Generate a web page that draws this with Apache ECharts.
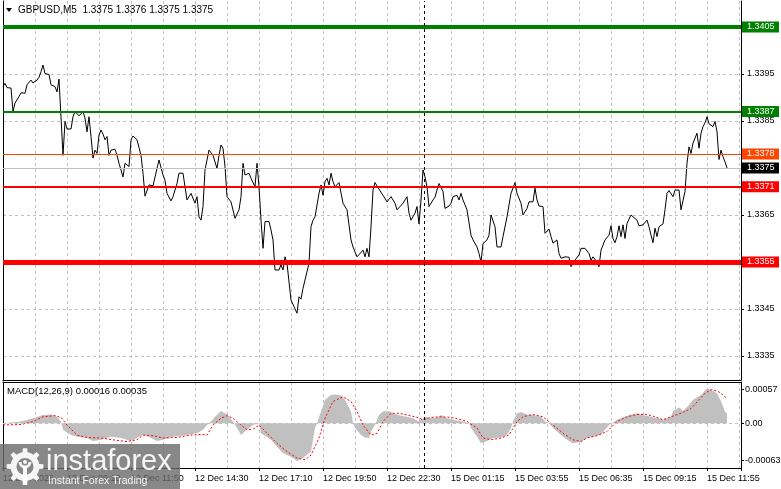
<!DOCTYPE html>
<html><head><meta charset="utf-8">
<script src="https://cdn.jsdelivr.net/npm/echarts@6/dist/echarts.min.js"></script>
<style>html,body{margin:0;padding:0;background:#fff}#c{width:781px;height:489px}</style>
</head><body><div id="c"></div>
<script>
// ---------------- data ----------------
const symbolTitle = 'GBPUSD,M5';
const ohlcValues = ['1.3375', '1.3376', '1.3375', '1.3375'];
const macdTitle = 'MACD(12,26,9) 0.00016 0.00035';
const xTickLabels = ['12 Dec 2025', '12 Dec 09:10', '12 Dec 11:50', '12 Dec 14:30', '12 Dec 17:10', '12 Dec 19:50',
  '12 Dec 22:30', '15 Dec 01:15', '15 Dec 03:55', '15 Dec 06:35', '15 Dec 09:15', '15 Dec 11:55'];
const priceTicks = [1.3335, 1.3345, 1.3355, 1.3365, 1.3375, 1.3385, 1.3395, 1.3405];
const macdTicks = [-0.00063, 0, 0.00057];
const greenLevels = [1.3405, 1.3387];
const orangeLevels = [1.3378];
const redLevels = [1.3371, 1.3355];
const lastPrice = 1.3375;
const daySeparatorBar = 210.4;

const priceBars = [0,1,2,4,5,6,8,9,11,12,14,15,17,18,19,20,21,23,24,26,27,28,29,30,31,32,34,35,36,38,39,40,41,42,43,44,45,46,47,48,49,50,51,52,53,54,56,57,58,60,61,63,64,65,67,69,70,71,73,75,77,78,80,81,82,84,85,87,88,90,91,92,94,95,96,97,98,99,100,101,103,105,107,108,109,110,111,112,114,116,118,119,120,121,123,124,126,127,128,
  129,130,131,133,134,135,136,138,139,140,141,142,143,144,145,147,148,149,150,151,153,154,155,156,158,159,160,161,162,163,164,165,166,168,169,170,172,174,175,177,178,180,181,182,183,184,185,186,188,189,190,192,193,194,196,197,198,200,201,202,203,204,206,207,208,209,210,211,212,213,214,215,216,217,218,219,220,221,223,224,225,226,227,228,229,230,232,234,235,237,238,239,240,242,243,244,246,247,249,250,252,253,
  254,256,257,259,260,262,263,265,266,267,268,270,271,273,274,275,277,278,279,281,283,284,286,288,289,291,293,294,295,297,298,299,301,303,304,305,306,307,308,309,310,311,312,314,315,317,318,320,322,323,324,325,326,327,328,330,331,332,333,335,336,337,338,339,340,341,342,343,344,345,347,348,349,350,351,352,353,355,356,357,358,359,360,361,362];
const priceClose = [1.33923,1.33930,1.33921,1.33920,1.33870,1.33888,1.33902,1.33910,1.33909,1.33927,1.33937,1.33931,1.33937,1.33943,1.33955,1.33969,1.33951,1.33949,1.33927,1.33923,1.33912,1.33939,1.33939,1.33777,1.33849,1.33833,1.33833,1.33859,1.33870,1.33861,1.33861,1.33870,1.33856,1.33827,1.33859,1.33817,1.33771,1.33788,1.33781,1.33820,1.33831,1.33822,1.33810,1.33817,1.33777,1.33788,1.33790,1.33777,1.33760,1.33731,1.33760,1.33753,1.33810,1.33818,1.33810,1.33777,1.33739,1.33690,1.33714,1.33712,1.33749,1.33767,1.33735,1.33724,1.33696,1.33680,1.33689,1.33717,1.33739,1.33739,1.33710,1.33682,1.33696,1.33697,1.33675,1.33689,1.33646,1.33639,1.33668,1.33746,1.33788,1.33777,1.33749,1.33777,1.33799,1.33792,1.33753,1.33689,1.33678,1.33643,1.33661,1.33689,1.33760,1.33735,1.33739,1.33728,1.33710,1.33760,1.33710,
  1.33639,1.33579,1.33636,1.33636,1.33618,1.33597,1.33533,1.33533,1.33544,1.33533,1.33561,1.33547,1.33544,1.33469,1.33466,1.33441,1.33476,1.33471,1.33494,1.33492,1.33547,1.33625,1.33639,1.33646,1.33696,1.33714,1.33692,1.33721,1.33728,1.33714,1.33739,1.33721,1.33710,1.33719,1.33719,1.33675,1.33661,1.33597,1.33582,1.33561,1.33561,1.33575,1.33561,1.33579,1.33561,1.33625,1.33703,1.33719,1.33705,1.33709,1.33692,1.33678,1.33675,1.33689,1.33675,1.33661,1.33661,1.33675,1.33682,1.33689,1.33654,1.33639,1.33654,1.33668,1.33631,1.33682,1.33746,1.33731,1.33710,1.33668,1.33671,1.33682,1.33688,1.33703,1.33717,1.33719,1.33700,1.33664,1.33669,1.33675,1.33689,1.33686,1.33692,1.33682,1.33696,1.33682,1.33661,1.33607,1.33597,1.33582,1.33568,1.33550,1.33589,1.33597,1.33607,1.33650,1.33625,1.33582,1.33582,1.33604,1.33646,1.33671,
  1.33696,1.33719,1.33696,1.33675,1.33650,1.33664,1.33678,1.33678,1.33707,1.33682,1.33669,1.33668,1.33611,1.33620,1.33604,1.33590,1.33597,1.33568,1.33558,1.33561,1.33560,1.33540,1.33554,1.33565,1.33579,1.33579,1.33568,1.33554,1.33561,1.33550,1.33540,1.33575,1.33597,1.33607,1.33627,1.33600,1.33591,1.33604,1.33627,1.33604,1.33629,1.33600,1.33632,1.33650,1.33650,1.33639,1.33627,1.33629,1.33639,1.33625,1.33607,1.33591,1.33622,1.33604,1.33625,1.33631,1.33661,1.33696,1.33702,1.33689,1.33703,1.33707,1.33703,1.33661,1.33664,1.33700,1.33760,1.33795,1.33781,1.33803,1.33824,1.33792,1.33824,1.33838,1.33846,1.33859,1.33844,1.33838,1.33849,1.33827,1.33768,1.33788,1.33774,1.33763,1.33750];

const histBars = [0,9,15,20,24,27,29,30,34,37,42,45,49,54,59,64,67,70,74,77,80,85,92,97,100,102,104,106,109,110,112,115,117,119,120,122,125,128,129,134,137,140,144,147,150,154,156,157,159,161,164,166,169,171,174,175,176,179,181,183,184,186,188,190,193,195,199,202,205,208,209,211,214,217,219,222,225,230,233,234,237,239,242,245,249,252,254,255,257,259,262,265,269,271,273,275,279,282,285,289,292,295,299,301,303,304,307,310,314,317,320,324,327,330,334,335,338,340,343,345,349,352,354,357,359,361,362];
const histValues = [0,0.00003,0.000085,0.00014,0.00015,0.00011,0.00003,-0.00011,-0.0002,-0.00023,-0.00025,-0.0003,-0.00028,-0.00023,-0.00025,-0.0003,-0.00025,-0.00019,-0.00025,-0.0003,-0.00028,-0.00023,-0.0002,-0.00017,-0.00011,-0.00003,0.00003,0.00011,0.00021,0.00022,0.00015,0.00003,-0.00008,-0.0002,-0.00023,-0.00011,-0.00003,0,-0.00017,-0.00028,-0.0004,-0.00051,-0.00057,-0.00064,-0.00059,-0.00048,-0.00008,0,0.0002,0.0004,0.00048,0.00049,0.00047,0.0004,0.0002,0,-0.00008,-0.0002,-0.00024,-0.00025,-0.00014,-0.00003,0.00014,0.0002,0.00021,0.00017,0.00013,0.00011,0.000085,0.00003,0,0.00011,0.000085,0.0001,0.00014,0.000085,0.00006,0.00003,0,-0.00008,-0.00023,-0.00034,-0.0003,-0.00025,-0.00024,-0.0002,-0.00008,0.00003,0.00017,0.00019,0.00015,0.00014,0.00011,0.00003,0,-0.00008,-0.0002,-0.00028,-0.00034,-0.00031,-0.00025,-0.00023,-0.00019,-0.00011,-0.00003,0,0.00006,0.0001,0.00015,0.00017,0.00014,0.00011,0.000085,0.00006,0.00011,0.00021,0.00027,0.00021,0.00031,0.0004,0.00048,0.00059,0.00057,0.00051,0.00037,0.0002,0.00016];

const signalBars = [0,9,15,20,26,29,32,37,42,49,57,62,67,70,75,80,87,94,99,102,105,109,112,115,119,122,125,128,132,137,142,147,151,154,158,161,165,170,174,177,180,184,187,190,194,198,202,207,210,214,219,224,228,232,237,240,244,249,253,257,260,265,270,275,280,285,289,292,297,302,307,312,317,322,326,330,334,339,344,348,351,354,357,359,362];
const signalValues = [-0.00003,-0.00002,0.00003,0.00011,0.00013,0.0001,-0.00003,-0.0002,-0.00024,-0.00025,-0.00029,-0.00031,-0.00028,-0.0002,-0.00021,-0.00025,-0.00024,-0.0002,-0.00019,-0.0002,-0.00003,0.000085,0.00013,0.000085,-0.00003,-0.00011,-0.0001,-0.00003,-0.00017,-0.00034,-0.00048,-0.00059,-0.00062,-0.00054,-0.00025,0.000085,0.00037,0.00045,0.00037,0.0002,-0.00003,-0.0002,-0.00017,0.00003,0.00017,0.00017,0.00014,0.0001,0.00006,0.0001,0.00011,0.0001,0.00007,0.00003,-0.00008,-0.00025,-0.00028,-0.00025,-0.0002,0.00003,0.00011,0.00015,0.00011,-0.00003,-0.00017,-0.00028,-0.00031,-0.00025,-0.00021,-0.00014,0.00003,0.00011,0.00015,0.00015,0.00011,0.00006,0.00011,0.00017,0.00025,0.0004,0.00051,0.00057,0.00055,0.00051,0.00042];

// ---------------- chart ----------------
const FONT = "'Liberation Sans', Arial, sans-serif";
const GRID_COLOR = '#C0C0C0';
const chart = echarts.init(document.getElementById('c'), null, { renderer: 'canvas' });

function boxLabel(bg, digits) {
  return {
    show: true, position: 'end', distance: 1,
    formatter: p => Number(p.value).toFixed(digits),
    color: '#fff', backgroundColor: bg, fontFamily: FONT, fontSize: 9,
    lineHeight: 10, padding: [1, 3, 0, 5], width: 29, align: 'left'
  };
}
const levelLines = [];
greenLevels.forEach((v, k) => levelLines.push({ yAxis: v, lineStyle: { color: '#008000', width: k === 0 ? 4 : 2, type: 'solid' }, label: boxLabel('#008000', 4) }));
orangeLevels.forEach(v => levelLines.push({ yAxis: v, lineStyle: { color: '#FF4500', width: 1, type: 'solid' }, label: boxLabel('#FF4500', 4) }));
levelLines.push({ yAxis: lastPrice, lineStyle: { color: '#C0C0C0', width: 1, type: 'solid' }, label: boxLabel('#000000', 4) });
redLevels.forEach((v, k) => levelLines.push({ yAxis: v, lineStyle: { color: '#FF0000', width: k === 0 ? 2 : 5, type: 'solid' }, label: boxLabel('#FF0000', 4) }));
levelLines.push({ xAxis: daySeparatorBar, lineStyle: { color: '#000', width: 1, type: [3, 3] }, label: { show: false } });

const X_MAX = 369;
function xAxisBase(grid) {
  return {
    type: 'value', gridIndex: grid, min: 0, max: X_MAX, interval: 16,
    axisLine: { show: true, onZero: false, lineStyle: { color: '#000', width: 1 } },
    axisTick: { show: false }, axisLabel: { show: false },
    splitLine: { show: true, lineStyle: { color: GRID_COLOR, type: [3, 3], width: 1 } }
  };
}

// gear outline for the watermark logo
function gearPoints(cx, cy, rOut, rIn, teeth) {
  const pts = [], step = Math.PI * 2 / teeth;
  for (let k = 0; k < teeth; k++) {
    const a = k * step - Math.PI / 2;
    [[-0.5, rIn], [-0.22, rIn], [-0.15, rOut], [0.15, rOut], [0.22, rIn]].forEach(([f, r]) => {
      pts.push([cx + r * Math.cos(a + f * step), cy + r * Math.sin(a + f * step)]);
    });
  }
  return pts;
}

const option = {
  animation: false,
  backgroundColor: '#fff',
  textStyle: { fontFamily: FONT },
  grid: [
    { left: 3, right: 40, top: 1, height: 379, outerBoundsMode: 'none', containLabel: false },
    { left: 3, right: 40, top: 382, height: 86, outerBoundsMode: 'none', containLabel: false }
  ],
  xAxis: [
    xAxisBase(0),
    xAxisBase(1),
    {
      type: 'value', gridIndex: 1, min: 0, max: X_MAX, interval: 32, position: 'bottom',
      axisLine: { show: false, onZero: false },
      axisTick: { show: true, length: 3, lineStyle: { color: '#000' } },
      splitLine: { show: false },
      axisLabel: {
        show: true, align: 'left', margin: 6, fontSize: 9, color: '#000', fontFamily: FONT,
        formatter: v => { const k = Math.round(v / 32); return (Math.abs(v - k * 32) < 1e-6 && xTickLabels[k]) ? xTickLabels[k] : ''; }
      }
    },
    {
      type: 'value', gridIndex: 1, min: 0, max: X_MAX, position: 'top',
      axisLine: { show: true, onZero: false, lineStyle: { color: '#000' } },
      axisTick: { show: false }, axisLabel: { show: false }, splitLine: { show: false }
    }
  ],
  yAxis: [
    {
      type: 'value', gridIndex: 0, position: 'right', min: 1.332989, max: 1.341053,
      axisLine: { show: true, onZero: false, lineStyle: { color: '#000' } },
      axisTick: { show: true, length: 3, customValues: priceTicks, lineStyle: { color: '#000' } },
      axisLabel: { show: true, customValues: priceTicks, margin: 6, fontSize: 9, color: '#000', fontFamily: FONT, formatter: v => v.toFixed(4) },
      splitLine: { show: true, lineStyle: { color: GRID_COLOR, type: [3, 3], width: 1 } }
    },
    {
      type: 'value', gridIndex: 1, position: 'right', min: -0.000759, max: 0.000701,
      axisLine: { show: true, onZero: false, lineStyle: { color: '#000' } },
      axisTick: { show: true, length: 3, customValues: macdTicks, lineStyle: { color: '#000' } },
      axisLabel: { show: true, customValues: macdTicks, margin: 4, fontSize: 9, color: '#000', fontFamily: FONT, formatter: v => v === 0 ? '0.00' : v.toFixed(5) },
      splitLine: { show: false }
    },
    {
      type: 'value', gridIndex: 0, position: 'left', min: 0, max: 1,
      axisLine: { show: true, onZero: false, lineStyle: { color: '#000' } },
      axisTick: { show: false }, axisLabel: { show: false }, splitLine: { show: false }
    },
    {
      type: 'value', gridIndex: 1, position: 'left', min: 0, max: 1,
      axisLine: { show: true, onZero: false, lineStyle: { color: '#000' } },
      axisTick: { show: false }, axisLabel: { show: false }, splitLine: { show: false }
    }
  ],
  series: [
    {
      name: 'close', type: 'line', xAxisIndex: 0, yAxisIndex: 0,
      data: priceBars.map((b, k) => [b, priceClose[k]]),
      symbol: 'none', lineStyle: { color: '#000', width: 1 }, z: 3,
      markLine: { silent: true, precision: 6, symbol: ['none', 'none'], animation: false, data: levelLines }
    },
    {
      name: 'macd', type: 'line', xAxisIndex: 1, yAxisIndex: 1,
      data: histBars.map((b, k) => [b, histValues[k]]),
      symbol: 'none', lineStyle: { width: 0, color: '#C0C0C0' },
      areaStyle: { color: '#C0C0C0', opacity: 1 }, z: 2,
      markLine: {
        silent: true, precision: 6, symbol: ['none', 'none'], animation: false,
        data: [
          { yAxis: 0, lineStyle: { color: GRID_COLOR, type: [3, 3], width: 1 }, label: { show: false } },
          { xAxis: daySeparatorBar, lineStyle: { color: '#000', type: [3, 3], width: 1 }, label: { show: false } }
        ]
      }
    },
    {
      name: 'signal', type: 'line', xAxisIndex: 1, yAxisIndex: 1,
      data: signalBars.map((b, k) => [b, signalValues[k]]),
      symbol: 'none', lineStyle: { color: '#FF0000', width: 1, type: [2, 2] }, z: 4
    }
  ],
  graphic: [
    { type: 'polygon', shape: { points: [[6, 8], [12, 8], [9, 12]] }, style: { fill: '#000' }, z: 50 },
    { type: 'text', x: 18, y: 10, style: { text: symbolTitle + '  ' + ohlcValues.join(' '), fill: '#000', font: '10px ' + FONT, verticalAlign: 'middle' }, z: 50 },
    { type: 'text', x: 7, y: 391, style: { text: macdTitle, fill: '#000', font: '9.5px ' + FONT, verticalAlign: 'middle' }, z: 50 },
    // watermark
    { type: 'rect', shape: { x: 0, y: 444, width: 180, height: 45 }, style: { fill: 'rgba(106,106,106,0.8)' }, z: 100 },
    { type: 'polygon', shape: { points: gearPoints(25, 466.5, 18.5, 14.5, 8) }, style: { fill: 'rgba(255,255,255,0.92)' }, z: 101 },
    { type: 'circle', shape: { cx: 25, cy: 466.5, r: 8.5 }, style: { fill: '#878787' }, z: 102 },
    { type: 'rect', shape: { x: 23, y: 466, width: 4, height: 19 }, style: { fill: 'rgba(255,255,255,0.92)' }, z: 103 },
    { type: 'arc', shape: { cx: 25, cy: 462, r: 5, startAngle: 0, endAngle: Math.PI }, style: { stroke: 'rgba(255,255,255,0.92)', lineWidth: 3, fill: null }, z: 103 },
    { type: 'circle', shape: { cx: 25, cy: 462, r: 2 }, style: { fill: 'rgba(255,255,255,0.92)' }, z: 103 },
    { type: 'text', x: 46, y: 462, style: { text: 'instaforex', fill: 'rgba(255,255,255,0.92)', font: '29px ' + FONT, verticalAlign: 'middle' }, z: 103 },
    { type: 'text', x: 48, y: 481, style: { text: 'Instant Forex Trading', fill: 'rgba(255,255,255,0.92)', font: '10.5px ' + FONT, verticalAlign: 'middle' }, z: 103 }
  ]
};
chart.setOption(option);
</script>
</body></html>
